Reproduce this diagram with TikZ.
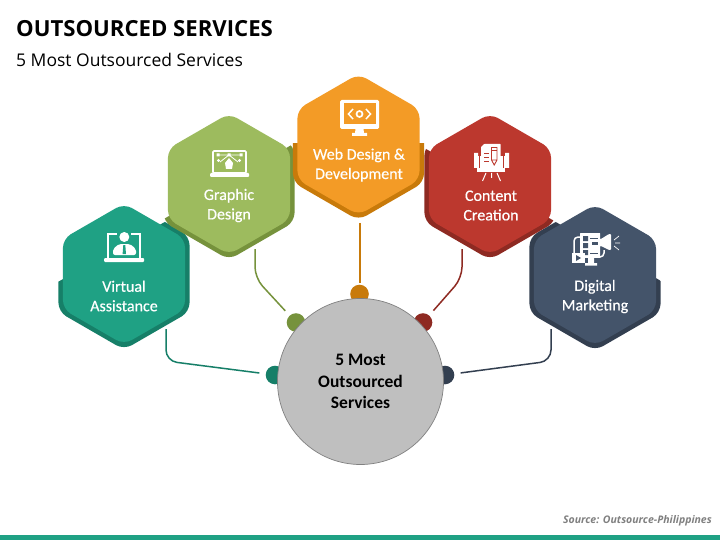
\documentclass[tikz,border=0pt]{standalone}
\usepackage{fontspec}
\setmainfont{Carlito}
\newfontfamily\opensans{Open Sans}
\newfontfamily\labelfont[FakeBold=0.4]{Carlito}
\usetikzlibrary{shapes.geometric}
\definecolor{tealface}{HTML}{1FA184}
\definecolor{tealshade}{HTML}{167F68}
\definecolor{greenface}{HTML}{9DBB5E}
\definecolor{greenshade}{HTML}{76923C}
\definecolor{orangeface}{HTML}{F39B26}
\definecolor{orangeshade}{HTML}{C87A0A}
\definecolor{redface}{HTML}{BC382E}
\definecolor{redshade}{HTML}{8E2A22}
\definecolor{navyface}{HTML}{44546A}
\definecolor{navyshade}{HTML}{333F50}
\tikzset{
  hexface/.style={shape=regular polygon, regular polygon sides=6, shape border rotate=30,
    minimum size=141pt, inner sep=0pt, outer sep=0pt, rounded corners=9pt},
  hexshade/.style={hexface, minimum size=151.4pt},
  hexlabel/.style={white, align=center, inner sep=0pt, font=\labelfont\fontsize{16}{19.5}\selectfont},
  dotnode/.style={circle, minimum size=18.6pt, inner sep=0pt, outer sep=0pt},
  link/.style={line width=1.5pt, rounded corners=11pt, shorten >=6.5pt},
}
% name, centre x, centre y, face, shade, clip polygon of the shade
\newcommand{\hexbox}[6]{
  \begin{scope}
    \clip #6;
    \node[hexshade, fill=#5] at (#2,#3) {};
  \end{scope}
  \node[hexface, fill=#4] (#1) at (#2,#3) {};
}
\begin{document}
\begin{tikzpicture}[x=1pt, y=-1pt]
  \useasboundingbox (0,0) rectangle (720,540);
  \fill[white] (0,0) rectangle (720,540);
  % --- title ---
  \node[anchor=west, inner sep=0pt, font=\opensans\bfseries\fontsize{22.15}{26}\selectfont] (title) at (16,29) {OUTSOURCED SERVICES};
  \node[anchor=west, inner sep=0pt, font=\opensans\fontsize{17.5}{20}\selectfont] (subtitle) at (16,59.5) {5 Most Outsourced Services};

  % --- hexagons ---
  \hexbox{virtual}{124}{274}{tealface}{tealshade}{(40,292)--(195,205)--(195,360)--(40,360)--cycle}
  \hexbox{digital}{595}{275}{navyface}{navyshade}{(520,202)--(670,286)--(670,360)--(520,360)--cycle}
  \hexbox{graphic}{229}{184}{greenface}{greenshade}{(150,227)--(300,140)--(300,270)--(150,270)--cycle}
  \hexbox{content}{490}{184}{redface}{redshade}{(410,140)--(565,227)--(565,270)--(410,270)--cycle}
  \hexbox{web}{358.5}{144.5}{orangeface}{orangeshade}{(285,144)--(430,144)--(430,225)--(285,225)--cycle}

  % --- labels ---
  \node[hexlabel] (virtuallabel) at (124,296) {Virtual\\Assistance};
  \node[hexlabel] (graphiclabel) at (229,205.5) {Graphic\\Design};
  \node[hexlabel] (weblabel) at (359,165) {Web Design \&\\Development};
  \node[hexlabel] (contentlabel) at (491,205.5) {Content\\Creation};
  \node[hexlabel] (digitallabel) at (595,296.5) {Digital\\Marketing};

  % --- connectors ---
  \node[dotnode, fill=tealshade] (virtualdot) at (275,375) {};
  \node[dotnode, fill=greenshade] (graphicdot) at (296,322.5) {};
  \node[dotnode, fill=orangeshade] (webdot) at (359.5,294) {};
  \node[dotnode, fill=redshade] (contentdot) at (423,322.5) {};
  \node[dotnode, fill=navyshade] (digitaldot) at (445,375) {};
  \coordinate (virtualend) at (166,329);
  \coordinate (graphicend) at (255,249);
  \coordinate (webend) at (360,223);
  \coordinate (contentend) at (462,249);
  \coordinate (digitalend) at (551,329);
  \draw[link, tealshade] (virtualend) -- (166,361) -- (virtualdot);
  \draw[link, greenshade] (graphicend) -- (255,278) -- (graphicdot);
  \draw[link, orangeshade, line width=1.7pt, shorten >=2pt] (webend) -- (webend |- webdot.north);
  \draw[link, redshade] (contentend) -- (462,278) -- (contentdot);
  \draw[link, navyshade] (digitalend) -- (551,361) -- (digitaldot);

  % --- centre ---
  \node[circle, fill=black!25, draw=black!50, line width=0.7pt, minimum size=166pt, inner sep=0pt,
    align=center, font=\bfseries\fontsize{17.5}{21.5}\selectfont] (centre) at (360.5,381.5) {5 Most\\Outsourced\\Services};

  % --- icon: virtual assistance ---
  \draw[white, line width=2pt] (117,234) -- (108,234) -- (108,258);
  \draw[white, line width=2pt] (131,234) -- (140,234) -- (140,258);
  \fill[white, rounded corners=1pt] (104,258) rectangle (144,262);
  \fill[white] (124.3,237) circle (5);
  \fill[white, rounded corners=2pt] (113,255) -- (113,249) -- (119,244) -- (130,244) -- (136,249) -- (136,255) -- cycle;
  \fill[tealface] (123.3,245) -- (125.3,245) -- (126,254) -- (122.6,254) -- cycle;

  % --- icon: graphic design ---
  \draw[white, line width=1.6pt, rounded corners=1pt] (213,151) rectangle (246,173);
  \fill[white, rounded corners=1pt] (210,173) rectangle (249,177);
  \draw[white, line width=0.8pt] (218,155) -- (241,155) (229,155) -- (220,162) (229,155) -- (238,162);
  \fill[white] (216.5,153.5) rectangle (219.5,156.5) (239.5,153.5) rectangle (242.5,156.5) (227.5,153.5) rectangle (230.5,156.5);
  \fill[white] (218.5,160.5) circle (1.7) (239.5,160.5) circle (1.7);
  \fill[white] (229,158) -- (233,163) -- (232,169) -- (226,169) -- (225,163) -- cycle;

  % --- icon: web design ---
  \fill[white, rounded corners=1.5pt] (340,100) rectangle (379,129);
  \fill[orangeface] (343.5,103) rectangle (375.5,124);
  \fill[white] (355.5,129) -- (363.5,129) -- (364,133) -- (367,133) -- (367,136) -- (352,136) -- (352,133) -- (355,133) -- cycle;
  \draw[white, line width=1.5pt] (353,109) -- (348.5,114) -- (353,119);
  \draw[white, line width=1.5pt] (366,109) -- (370.5,114) -- (366,119);
  \draw[white, line width=1.7pt] (359.5,114) circle (3);

  % --- icon: content creation ---
  \fill[white] (474,153) rectangle (478,168) (505,153) rectangle (509,168);
  \fill[white] (477,156) rectangle (506,168);
  \draw[redface, line width=0.8pt] (479.3,155) -- (479.3,168) (503.7,155) -- (503.7,168);
  \fill[white, rounded corners=0.5pt] (484,144) -- (500.7,144) -- (500.7,169) -- (481,169) -- (481,147) -- cycle;
  \fill[white] (477,168) rectangle (505,172);
  \draw[redface, line width=0.9pt] (491.5,147.5) rectangle (497,160) (491.5,160) -- (494.2,165) -- (497,160) (491.5,150.5) -- (497,150.5);
  \draw[redface, line width=1pt] (484,154) -- (489,154) (484,158) -- (489,158) (484,162) -- (489,162);
  \draw[white, line width=1pt] (486,173) -- (482.5,181) (491.5,173) -- (491.5,178) (497,173) -- (500.5,181);

  % --- icon: digital marketing ---
  \draw[white, line width=1.5pt, rounded corners=4pt] (581,237) -- (574,237) -- (574,257) -- (604,257) -- (604,250);
  \fill[white, rounded corners=0.5pt] (580,233) rectangle (600,257);
  \fill[navyface] (583,236) rectangle (588,241) (583,243) rectangle (588,248) (583,250) rectangle (588,255);
  \draw[navyface, line width=0.8pt] (590,238) -- (598,238) (590,253) -- (598,253);
  \fill[white, rounded corners=1pt] (590,239) -- (601,239) -- (609,234) -- (611,234) -- (611,250) -- (609,250) -- (601,246) -- (596,247) -- (590,247) -- cycle;
  \fill[navyface] (592,242) rectangle (598,245);
  \draw[white, line width=0.7pt] (614,240) -- (619,236) (615,243) -- (620,243) (614,246) -- (619,250);
  \fill[white] (572,253) rectangle (585,263);
  \fill[navyface] (576,255) -- (576,261) -- (581,258) -- cycle;
  \fill[white] (588,258) rectangle (594,263) (585,263) rectangle (597,265.5);

  % --- footer ---
  \node[anchor=east, inner sep=0pt, text=black!50, font=\opensans\bfseries\itshape\fontsize{10.5}{12}\selectfont] (source) at (712,521) {Source: Outsource-Philippines};
  \fill[tealface] (0,534.5) rectangle (720,540);
\end{tikzpicture}
\end{document}
